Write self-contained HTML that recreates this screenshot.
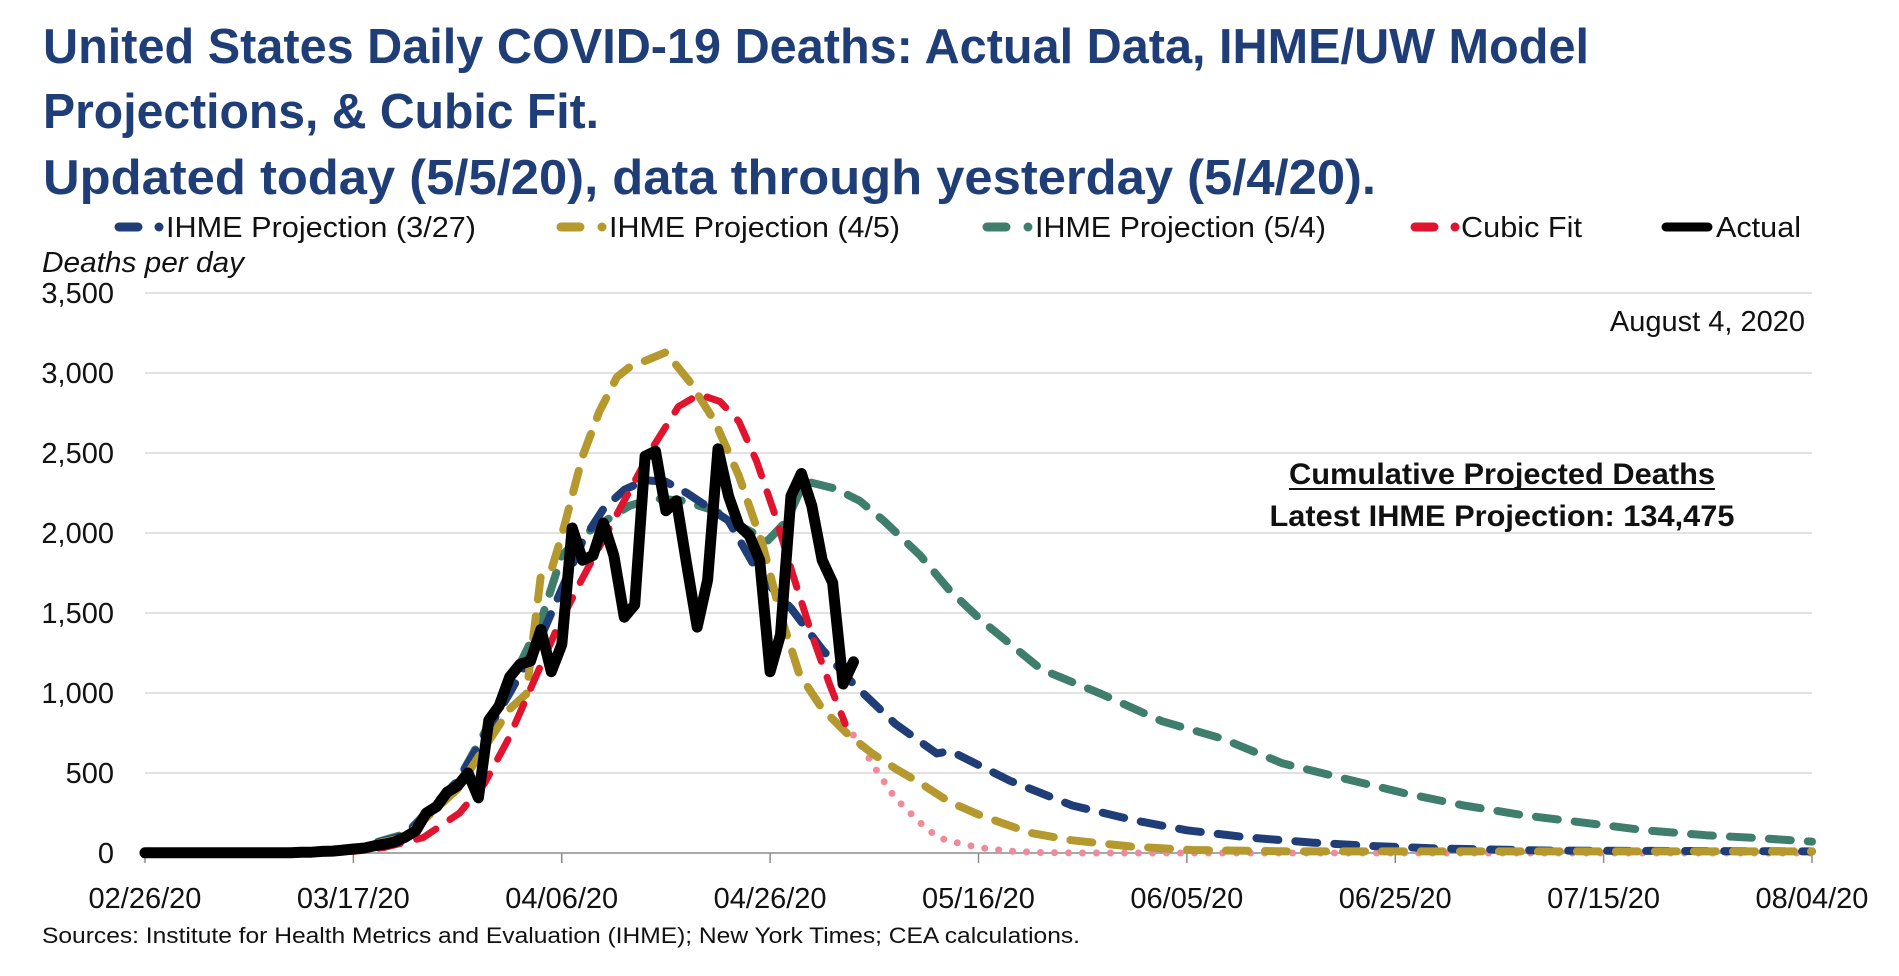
<!DOCTYPE html>
<html><head><meta charset="utf-8"><style>
html,body{margin:0;padding:0;background:#fff;}
svg{display:block;font-family:"Liberation Sans",sans-serif;}
</style></head><body>
<svg id="chart" width="1899" height="976" viewBox="0 0 1899 976">
<g fill="#1f3e77" font-weight="bold" font-size="49">
<text x="43" y="63" textLength="1546" lengthAdjust="spacingAndGlyphs">United States Daily COVID-19 Deaths: Actual Data, IHME/UW Model</text>
<text x="43" y="128" textLength="556" lengthAdjust="spacingAndGlyphs">Projections, &amp; Cubic Fit.</text>
<text x="43" y="194" textLength="1333" lengthAdjust="spacingAndGlyphs">Updated today (5/5/20), data through yesterday (5/4/20).</text>
</g>
<g id="legend" font-size="29" fill="#111"></g>
<text x="42" y="272" font-size="29" font-style="italic" fill="#111" textLength="202" lengthAdjust="spacingAndGlyphs">Deaths per day</text>
<g id="grid"></g>
<g id="yticks" font-size="29" fill="#111" text-anchor="end"></g>
<g id="xticks" font-size="29" fill="#111" text-anchor="middle"></g>
<g id="series"></g>
<text x="1805" y="331" font-size="29" fill="#111" text-anchor="end">August 4, 2020</text>
<text x="1502" y="484" font-size="30" font-weight="bold" fill="#111" text-anchor="middle" textLength="426" lengthAdjust="spacingAndGlyphs">Cumulative Projected Deaths</text>
<line x1="1289" y1="489" x2="1715" y2="489" stroke="#111" stroke-width="2"/>
<text x="1502" y="526" font-size="30" font-weight="bold" fill="#111" text-anchor="middle" textLength="465" lengthAdjust="spacingAndGlyphs">Latest IHME Projection: 134,475</text>
<text x="42" y="943" font-size="22" fill="#111" textLength="1038" lengthAdjust="spacingAndGlyphs">Sources: Institute for Health Metrics and Evaluation (IHME); New York Times; CEA calculations.</text>
</svg>
<script>
const yTicks=[0,500,1000,1500,2000,2500,3000,3500];
const xTickDays=[0,20,40,60,80,100,120,140,160];
const xTickLabels=["02/26/20","03/17/20","04/06/20","04/26/20","05/16/20","06/05/20","06/25/20","07/15/20","08/04/20"];
const actualDays=[0,5,10,14,15,16,17,18,19,20,21,22,23,24,25,26,27,28,29,30,31,32,33,34,35,36,37,38,39,40,41,42,43,44,45,46,47,48,49,50,51,52,53,54,55,56,57,58,59,60,61,62,63,64,65,66,67,68];
const actualVals=[1,1,2,2,5,5,10,12,18,25,30,45,55,70,100,140,250,290,380,420,500,345,830,920,1100,1180,1200,1396,1133,1303,2031,1830,1860,2062,1860,1474,1551,2480,2511,2139,2201,1800,1412,1706,2526,2232,2046,1985,1830,1133,1365,2232,2372,2170,1830,1690,1056,1195];
const ihme327Days=[0,15,20,25,30,35,38,40,42,44,46,48,50,52,56,59,62,65,68,72,76,77.3,83,89,95,100,106,112,118,124,135,160];
const ihme327Vals=[0,5,25,110,450,1000,1350,1650,1950,2150,2270,2330,2320,2250,2077,1737,1530,1272,1056,808,622,638,452,297,204,142,96,65,43,28,15,10];
const ihme45Days=[0,15,20,25,30,33,35,36.6,38,39,40,42,43.6,45.3,46.5,48.3,50,52.3,54.7,57,59.3,61,62.8,65,67.4,69.8,72,74.4,77.2,80.2,84.9,88.9,94.7,100.5,110,160];
const ihme45Vals=[0,5,25,100,400,700,900,994,1737,1768,1985,2480,2759,2975,3037,3084,3130,2944,2697,2356,1923,1489,1118,901,746,622,529,437,320,235,127,80,40,19,10,10];
const ihme54Days=[0,15,20,25,30,33,35,38,40,42,44.2,46.5,48.8,51.7,54.7,57.5,59.8,61.6,63.3,66.2,68.6,70.9,74.4,77.2,80.2,83.1,86,91.8,97.6,103.4,109.2,115,120.8,126.6,132.4,138.2,144,149.8,155.6,160];
const ihme54Vals=[0,5,25,120,450,800,1050,1450,1860,1985,2077,2170,2216,2201,2139,2031,1954,2077,2325,2279,2201,2077,1860,1644,1458,1303,1149,994,824,715,560,467,375,297,235,189,142,111,90,71];
const cubicDays=[0,15,20,23,26.7,30.2,32.6,34.9,37.2,39.5,41.9,44.2,46.5,48.8,51.2,53.2,55.2,57,58.7,60.5,62.2,64,65.7,67.2];
const cubicVals=[0,2,10,35,96,250,437,715,1056,1396,1706,1985,2263,2542,2790,2867,2821,2697,2449,2108,1737,1365,1056,808];
const cubicTailDays=[67.2,68.6,70.4,72,74.4,76.1,77.9,80,83,86,90,100,120,140,160];
const cubicTailVals=[808,684,498,344,189,96,65,34,12,3,0,0,0,0,0];

const NS="http://www.w3.org/2000/svg";
const X0=145,X1=1812,Y0=853,Y1=293;
const xs=d=>X0+d*(X1-X0)/160;
const ys=v=>Y0-v*(Y0-Y1)/3500;
function mk(tag,attrs,parent){const e=document.createElementNS(NS,tag);for(const k in attrs)e.setAttribute(k,attrs[k]);parent.appendChild(e);return e;}
const grid=document.getElementById('grid'),yt=document.getElementById('yticks'),xt=document.getElementById('xticks'),ser=document.getElementById('series'),leg=document.getElementById('legend');
yTicks.forEach(v=>{
 if(v>0){const l=mk('line',{x1:X0,x2:X1,y1:ys(v),y2:ys(v),stroke:'#d9d9d9','stroke-width':1.5},grid);
 
 }
 const t=mk('text',{x:114,y:ys(v)+10},yt);t.textContent=v.toLocaleString('en-US');
 
 
});
const ax=mk('line',{x1:X0,x2:X1,y1:Y0,y2:Y0,stroke:'#8c8c8c','stroke-width':1.5},grid);


xTickDays.forEach((d,i)=>{
 const tk=mk('line',{x1:xs(d),x2:xs(d),y1:Y0,y2:Y0+10,stroke:'#8c8c8c','stroke-width':1.5},grid);
 
 
 const t=mk('text',{x:xs(d),y:908},xt);t.textContent=xTickLabels[i];
 
 
});
function pathD(days,vals){return days.map((d,i)=>(i?'L':'M')+xs(d).toFixed(1)+','+ys(vals[i]).toFixed(1)).join(' ');}
function line(days,vals,color,w,dash,name){
 const p=mk('path',{d:pathD(days,vals),fill:'none',stroke:color,'stroke-width':w,'stroke-dasharray':dash,'stroke-linecap':'round','stroke-linejoin':'round'},ser);
 
 
}
line(cubicTailDays,cubicTailVals,'#ef8a9a',7,'0 14','cubic-fit-extrapolation');
line(ihme54Days,ihme54Vals,'#3f7d6d',8,'22 17','ihme-5-4-line');
line(ihme327Days,ihme327Vals,'#1f3e77',8,'22 17','ihme-3-27-line');
line(ihme45Days,ihme45Vals,'#b5982e',8,'22 17','ihme-4-5-line');
line(cubicDays,cubicVals,'#e0142e',7,'22 17','cubic-fit-line');
line(actualDays,actualVals,'#000',11,'none','actual-line');
const legItems=[
 {x:115,dot:159,tx:166,tl:310,c:'#1f3e77',label:'IHME Projection (3/27)',n:'legend-ihme-3-27'},
 {x:557,dot:602,tx:609,tl:291,c:'#b5982e',label:'IHME Projection (4/5)',n:'legend-ihme-4-5'},
 {x:983,dot:1028,tx:1035,tl:291,c:'#3f7d6d',label:'IHME Projection (5/4)',n:'legend-ihme-5-4'},
 {x:1411,dot:1455,tx:1461,tl:121,c:'#e0142e',label:'Cubic Fit',n:'legend-cubic-fit'},
 {x:1662,dot:null,tx:1716,tl:85,c:'#000',label:'Actual',n:'legend-actual'}];
legItems.forEach(it=>{
 const g=mk('g',{},leg);
 
 
 const w=it.dot?27:50;
 mk('line',{x1:it.x+4,x2:it.x+w-4,y1:227,y2:227,stroke:it.c,'stroke-width':9,'stroke-linecap':'round'},g);
 if(it.dot)mk('circle',{cx:it.dot,cy:227,r:4.5,fill:it.c},g);
 const t=mk('text',{x:it.tx,y:237,textLength:it.tl,lengthAdjust:'spacingAndGlyphs'},g);t.textContent=it.label;
});
</script>
</body></html>
